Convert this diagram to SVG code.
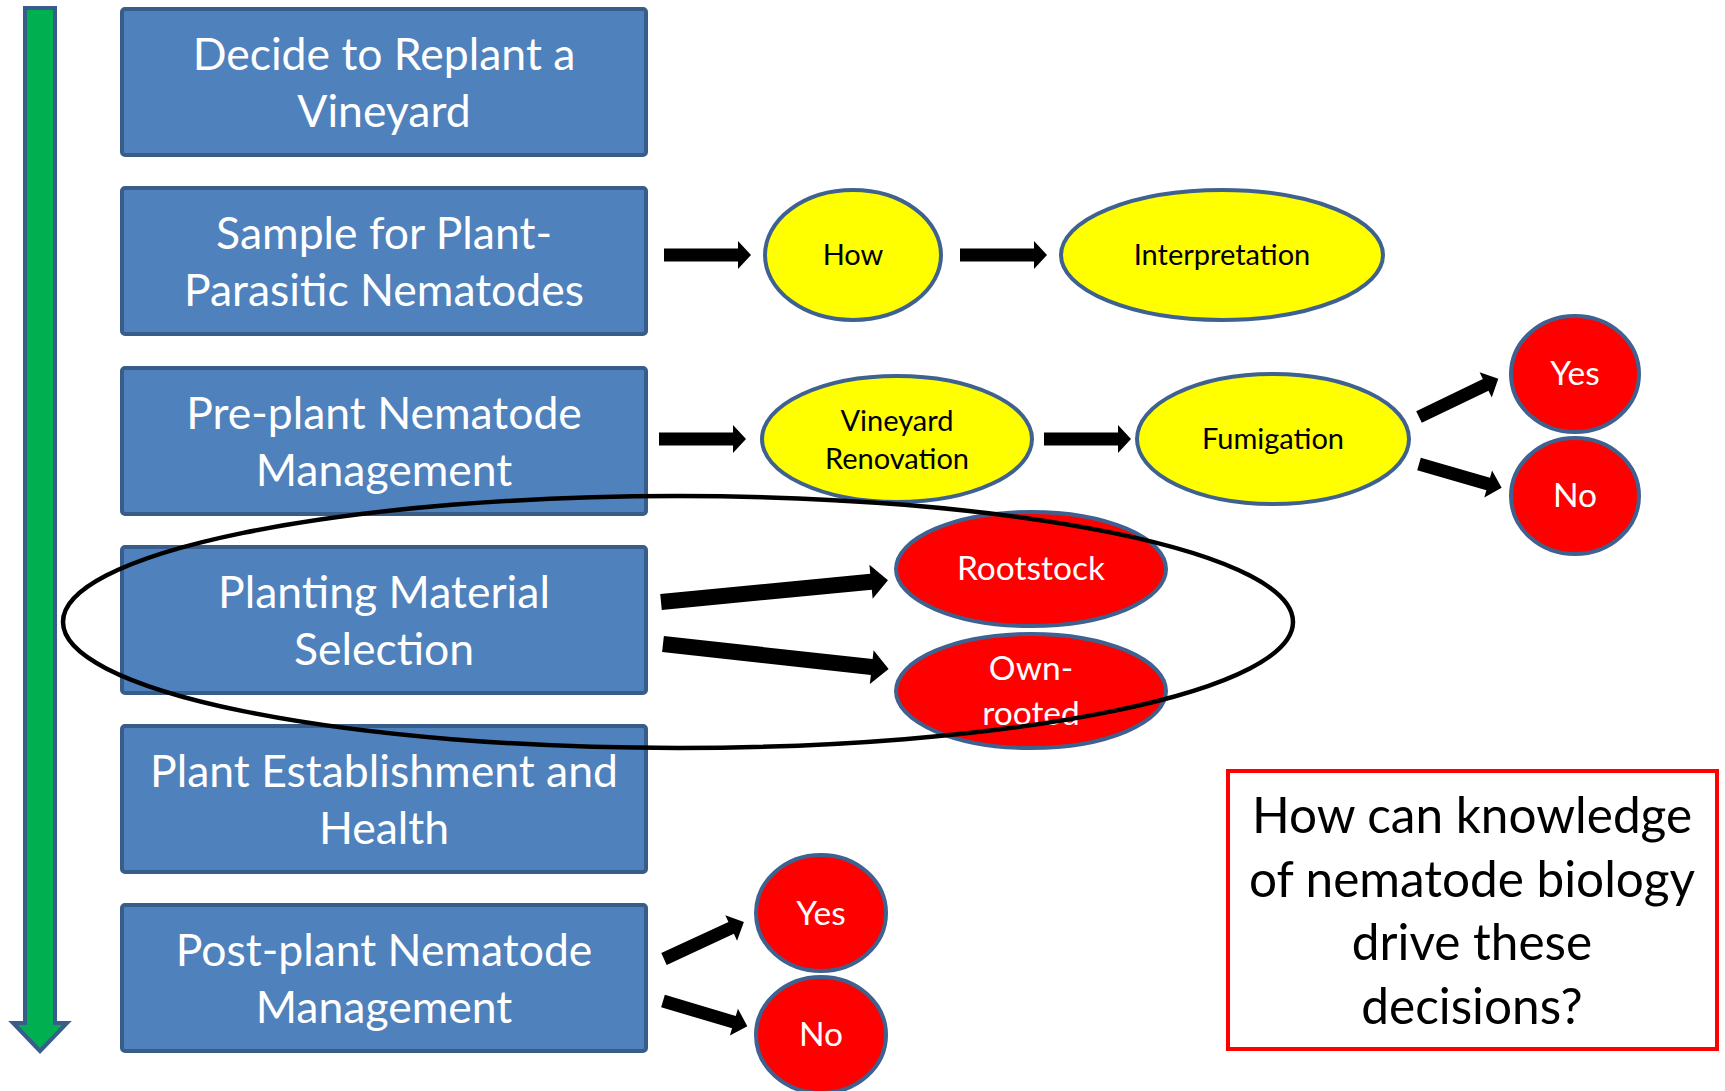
<svg xmlns="http://www.w3.org/2000/svg" width="1725" height="1091" viewBox="0 0 1725 1091">
<style>
.box{fill:#4F81BD;stroke:#385D8A;stroke-width:4}
.bt{font-family:Lato,"Open Sans","Liberation Sans",sans-serif;font-size:44.5px;fill:#fff;text-anchor:middle}
.yel{fill:#FFFF00;stroke:#3F6190;stroke-width:4}
.red{fill:#FF0000;stroke:#3F6190;stroke-width:4}
.yt{font-family:Lato,"Open Sans","Liberation Sans",sans-serif;font-size:29px;fill:#000;text-anchor:middle}
.rt{font-family:Lato,"Open Sans","Liberation Sans",sans-serif;font-size:33.5px;fill:#fff;text-anchor:middle}
.arr{fill:#000}
.qt{font-family:Lato,"Open Sans","Liberation Sans",sans-serif;font-size:49.5px;fill:#000;text-anchor:middle}
</style>
<rect width="1725" height="1091" fill="#fff"/>
<g id="timeline">
<polygon points="25,8 55,8 55,1023 67,1023 40,1051 13,1023 25,1023" fill="#00B050" stroke="#385D8A" stroke-width="4"/>
</g>
<g id="box1"><rect class="box" x="122" y="9" width="524" height="146" rx="3"/><text class="bt" x="384" y="70">Decide to Replant a</text><text class="bt" x="384" y="127">Vineyard</text></g>
<g id="box2"><rect class="box" x="122" y="188" width="524" height="146" rx="3"/><text class="bt" x="384" y="249">Sample for Plant-</text><text class="bt" x="384" y="306">Parasitic Nematodes</text></g>
<g id="box3"><rect class="box" x="122" y="368" width="524" height="146" rx="3"/><text class="bt" x="384" y="429">Pre-plant Nematode</text><text class="bt" x="384" y="486">Management</text></g>
<g id="box4"><rect class="box" x="122" y="547" width="524" height="146" rx="3"/><text class="bt" x="384" y="608">Planting Material</text><text class="bt" x="384" y="665">Selection</text></g>
<g id="box5"><rect class="box" x="122" y="726" width="524" height="146" rx="3"/><text class="bt" x="384" y="787">Plant Establishment and</text><text class="bt" x="384" y="844">Health</text></g>
<g id="box6"><rect class="box" x="122" y="905" width="524" height="146" rx="3"/><text class="bt" x="384" y="966">Post-plant Nematode</text><text class="bt" x="384" y="1023">Management</text></g>
<g id="how"><ellipse class="yel" cx="853" cy="255" rx="88" ry="65"/><text class="yt" x="853" y="265">How</text></g>
<g id="interpretation"><ellipse class="yel" cx="1222" cy="255" rx="161" ry="65"/><text class="yt" x="1222" y="265">Interpretation</text></g>
<g id="renovation"><ellipse class="yel" cx="897" cy="439" rx="135" ry="63"/><text class="yt" x="897" y="431">Vineyard</text><text class="yt" x="897" y="469">Renovation</text></g>
<g id="fumigation"><ellipse class="yel" cx="1273" cy="439" rx="136" ry="65"/><text class="yt" x="1273" y="449">Fumigation</text></g>
<g id="fum-yes"><ellipse class="red" cx="1575" cy="374" rx="64" ry="58"/><text class="rt" x="1575" y="385">Yes</text></g>
<g id="fum-no"><ellipse class="red" cx="1575" cy="496" rx="64" ry="58"/><text class="rt" x="1575" y="507">No</text></g>
<g id="rootstock"><ellipse class="red" cx="1031" cy="569" rx="135" ry="57"/><text class="rt" x="1031" y="580">Rootstock</text></g>
<g id="ownrooted"><ellipse class="red" cx="1031" cy="691" rx="135" ry="57"/><text class="rt" x="1031" y="680">Own-</text><text class="rt" x="1031" y="725">rooted</text></g>
<g id="post-yes"><ellipse class="red" cx="821" cy="913" rx="65" ry="58"/><text class="rt" x="821" y="925">Yes</text></g>
<g id="post-no"><ellipse class="red" cx="821" cy="1035" rx="65" ry="58"/><text class="rt" x="821" y="1046">No</text></g>
<g id="connectors">
<polygon class="arr" transform="translate(664,255)" points="0,-6.5 74,-6.5 74,-14 87,0 74,14 74,6.5 0,6.5"/>
<polygon class="arr" transform="translate(960,255)" points="0,-6.5 74,-6.5 74,-14 87,0 74,14 74,6.5 0,6.5"/>
<polygon class="arr" transform="translate(659,439)" points="0,-6.5 74,-6.5 74,-14 87,0 74,14 74,6.5 0,6.5"/>
<polygon class="arr" transform="translate(1044,439)" points="0,-6.5 74,-6.5 74,-14 87,0 74,14 74,6.5 0,6.5"/>
<polygon class="arr" transform="translate(1419,417) rotate(-25.7)" points="0,-6.5 74,-6.5 74,-14 88,0 74,14 74,6.5 0,6.5"/>
<polygon class="arr" transform="translate(1419,464) rotate(16.1)" points="0,-6.5 72,-6.5 72,-14 86,0 72,14 72,6.5 0,6.5"/>
<polygon class="arr" transform="translate(661,602) rotate(-5.5)" points="0,-8 211,-8 211,-17 228,0 211,17 211,8 0,8"/>
<polygon class="arr" transform="translate(663,644) rotate(6.3)" points="0,-8 210,-8 210,-17 227,0 210,17 210,8 0,8"/>
<polygon class="arr" transform="translate(664,959) rotate(-24.8)" points="0,-6.5 74,-6.5 74,-14 88,0 74,14 74,6.5 0,6.5"/>
<polygon class="arr" transform="translate(663,1001) rotate(16.6)" points="0,-6.5 74,-6.5 74,-14 88,0 74,14 74,6.5 0,6.5"/>
</g>
<g id="highlight"><ellipse cx="678" cy="622" rx="615" ry="126" fill="none" stroke="#000" stroke-width="4.5"/></g>
<g id="question"><rect x="1228" y="771" width="489" height="278" fill="#fff" stroke="#FF0000" stroke-width="4"/>
<text class="qt" x="1472" y="833">How can knowledge</text>
<text class="qt" x="1472" y="897">of nematode biology</text>
<text class="qt" x="1472" y="960">drive these</text>
<text class="qt" x="1472" y="1024">decisions?</text></g>
</svg>
